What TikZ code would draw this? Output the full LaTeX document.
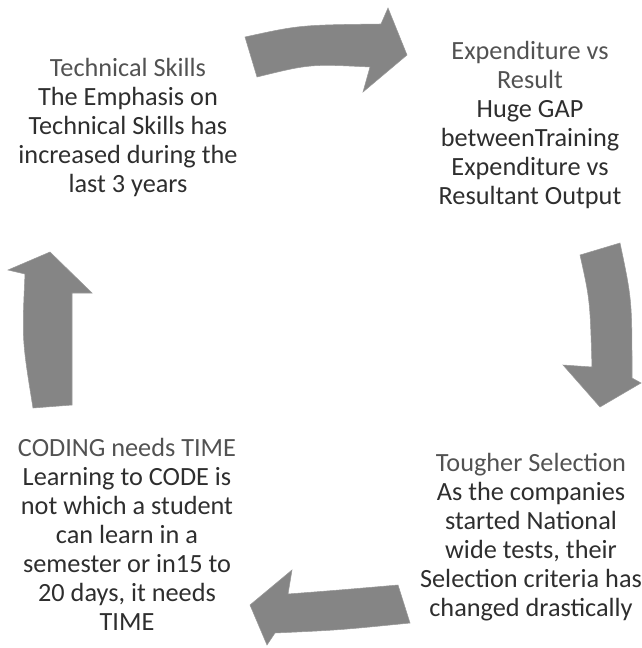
\documentclass[tikz,border=0pt]{standalone}
\usepackage{fontspec}
\setmainfont{Carlito}
\usepackage{tikz}
\usetikzlibrary{positioning,calc}
\usepackage{xcolor}

\tikzset{
  cycletext/.style={align=center, text=black!82, inner sep=0pt,
    font=\fontsize{19.7}{21.75}\selectfont},
  blockarrow/.style={fill=black!48, draw=black!40, line width=0.4pt}
}
\newcommand{\headline}[1]{\textcolor{black!68}{#1}}

\begin{document}
\begin{tikzpicture}[x=0.75pt,y=-0.75pt]
            \useasboundingbox (0,0) rectangle (641,648);

            % Technical skills
            \node[cycletext] (skills) at (128,127) {\headline{Technical Skills}\\The Emphasis on\\Technical Skills has\\increased during the\\last 3 years};

            % Expenditure
            \node[cycletext] (expense) at (530,125) {\headline{Expenditure vs}\\\headline{Result}\\Huge GAP\\betweenTraining\\Expenditure vs\\Resultant Output};

            % Selection
            \node[cycletext] (selection) at (531,537) {\headline{Tougher Selection}\\As the companies\\started National\\wide tests, their\\Selection criteria has\\changed drastically};

            % Coding
            \node[cycletext] (coding) at (127,534) {\headline{CODING needs TIME}\\Learning to CODE is\\not which a student\\can learn in a\\semester or in15 to\\20 days, it needs\\TIME};

            % Arrow top
            \draw[blockarrow] (245,37) .. controls (300,25) .. (381,24) -- (388,8)
              -- (407,55) -- (363,92) -- (370,67) .. controls (310,64) .. (257,77) -- cycle;

            % Arrow right
            \draw[blockarrow] (580,255) -- (620,243) .. controls (632,300) .. (632,378)
              -- (641,383) -- (600,407) -- (563,365) -- (592,367) .. controls (590,300) .. cycle;

            % Arrow bottom
            \draw[blockarrow] (398,585) -- (410,623) .. controls (340,630) .. (275,633)
              -- (267,645) -- (250,605) -- (292,570) -- (288,594) .. controls (340,590) .. cycle;

            % Arrow left
            \draw[blockarrow] (33,408) -- (72,405) -- (72,293) -- (92,293) -- (50,252)
              -- (8,270) -- (25,274) .. controls (22,340) .. cycle;
        \end{tikzpicture}
\end{document}
